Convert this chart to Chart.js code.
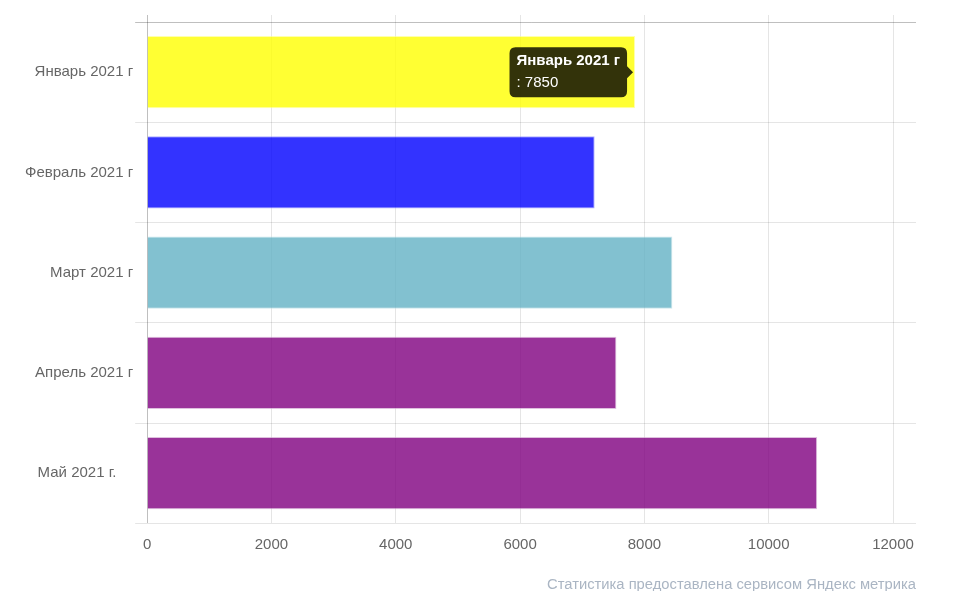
<!DOCTYPE html>
<html>
<head>
<meta charset="utf-8">
<script src="https://cdn.jsdelivr.net/npm/chart.js@4/dist/chart.umd.min.js"></script>
<style>
  html, body { margin: 0; padding: 0; background: #fff; }
  #wrap { width: 966px; height: 591px; position: relative; }
</style>
</head>
<body>
<div id="wrap"><canvas id="myChart"></canvas></div>
<script>
// данные
const months = ['Январь 2021 г', 'Февраль 2021 г', 'Март 2021 г', 'Апрель 2021 г', 'Май 2021 г.    '];
const visits = [7850, 7200, 8450, 7550, 10780];
const barColors = [
  'rgba(255, 255, 0, 0.8)',
  'rgba(0, 0, 255, 0.8)',
  'rgba(99, 177, 196, 0.8)',
  'rgba(128, 0, 128, 0.8)',
  'rgba(128, 0, 128, 0.8)'
];
const borderColors = [
  'rgba(255, 255, 120, 0.6)',
  'rgba(120, 120, 255, 0.6)',
  'rgba(170, 215, 225, 0.6)',
  'rgba(200, 150, 200, 0.6)',
  'rgba(200, 150, 200, 0.6)'
];
const xTicks = [0, 2000, 4000, 6000, 8000, 10000, 12000];
const xMax = 12370;
const footerText = 'Статистика предоставлена сервисом Яндекс метрика';

const font = 'Arial, "Liberation Sans", sans-serif';

function keepTicks(scale) {
  scale.ticks = xTicks.map(v => ({ value: v }));
}

const gridColor = ctx => ctx.index === 0 ? 'rgba(0,0,0,0.25)' : 'rgba(0,0,0,0.1)';

const chart = new Chart(document.getElementById('myChart'), {
  type: 'bar',
  data: {
    labels: months,
    datasets: [{
      label: '',
      data: visits,
      backgroundColor: barColors,
      borderColor: borderColors,
      hoverBackgroundColor: barColors,
      hoverBorderColor: borderColors,
      borderWidth: 1,
      categoryPercentage: 0.8,
      barPercentage: 0.9
    }]
  },
  options: {
    indexAxis: 'y',
    responsive: true,
    maintainAspectRatio: false,
    devicePixelRatio: 1,
    animation: false,
    layout: { padding: { left: 23, right: 50, top: 15, bottom: -3 } },
    scales: {
      x: {
        position: 'bottom',
        min: 0,
        max: xMax,
        afterBuildTicks: keepTicks,
        border: { display: false },
        grid: { color: gridColor, tickColor: 'transparent', tickLength: 8 },
        ticks: {
          color: '#666',
          font: { family: font, size: 15 },
          padding: 5,
          callback: v => String(v)
        }
      },
      x2: {
        position: 'top',
        min: 0,
        max: xMax,
        afterBuildTicks: keepTicks,
        border: { display: false },
        grid: { drawOnChartArea: false, color: gridColor, tickLength: 7 },
        ticks: { display: false }
      },
      y: {
        border: { display: false },
        grid: { color: gridColor, tickLength: 12, offset: true },
        ticks: { color: '#666', font: { family: font, size: 15 }, padding: 2 }
      }
    },
    plugins: {
      legend: { display: false },
      title: {
        display: true,
        text: footerText,
        position: 'bottom',
        align: 'end',
        color: '#aab5c3',
        font: { family: font, size: 14.75, weight: 'normal' },
        padding: { top: 17, bottom: 0 }
      },
      tooltip: {
        enabled: true,
        xAlign: 'right',
        yAlign: 'center',
        backgroundColor: 'rgba(0,0,0,0.8)',
        titleFont: { family: font, size: 15, weight: 'bold' },
        bodyFont: { family: font, size: 15 },
        titleMarginBottom: 4,
        padding: { x: 7, y: 5 },
        caretSize: 6,
        caretPadding: 2,
        cornerRadius: 6,
        displayColors: false,
        callbacks: {
          title: items => items[0].label.trim(),
          label: item => ': ' + item.raw
        }
      }
    }
  }
});

// подсказка для января
chart.tooltip.setActiveElements([{ datasetIndex: 0, index: 0 }], { x: 0, y: 0 });
chart.update();
</script>
</body>
</html>
